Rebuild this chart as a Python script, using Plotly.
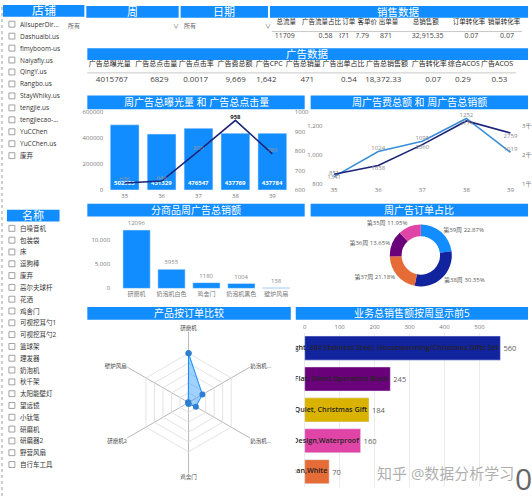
import plotly.graph_objects as go

# ---------------- data ----------------
stores = ['AllsuperDir...', 'Dashuaibi.us', 'fimyboom-us', 'Naiyafly.us', 'QingY.us', 'Rangbo.us',
          'StayWhiky.us', 'tengjie.us', 'tengjiecao-...', 'YuCChen', 'YuCChen.us', '废弃']
product_names = ['白噪音机', '包装袋', '床', '逗狗棒', '废弃', '高尔夫球杆', '花洒', '鸡舍门', '可视挖耳勺1',
                 '可视挖耳勺2', '篮球架', '理发器', '奶泡机', '秋千架', '太阳能壁灯', '望远镜', '小钛笔',
                 '研磨机', '研磨器2', '野营风扇', '自行车工具']
week_filter = '所有'
date_filter = '所有'

sales_headers = ['总流量', '广告流量占比', '订单', '客单价', '出单量', '总销售额', '订单转化率', '销量转化率']
sales_values = ['11709', '0.58', '871', '37.79', '871', '32,915.35', '0.07', '0.07']

ad_headers = ['广告总曝光量', '广告总点击量', '广告点击率', '广告费总额', '广告CPC', '广告总销量',
              '广告出单占比', '广告总销售额', '广告转化率', '综合ACOS', '广告ACOS']
ad_values = ['4015767', '6829', '0.0017', '9,669', '1,642', '471', '0.54', '18,372.33', '0.07', '0.29', '0.53']

weeks = ['35', '36', '37', '38', '39']
ad_impressions = [502983, 431329, 476547, 437769, 437784]
ad_clicks = [636, 646, 800, 958, 786]
ad_spend = [851, 1024, 1095, 1252, 1019]
ad_sales = [1341, 1638, 2360, 3174, 2759]

products = ['研磨机', '奶泡机白色', '鸡舍门', '奶泡机黑色', '壁炉风扇']
product_ad_sales = [12096, 3955, 1180, 1004, 138]

order_weeks = ['第39周', '第38周', '第37周', '第36周', '第35周']
order_share = [22.87, 30.35, 21.18, 13.65, 11.95]

radar_products = ['研磨机', '奶泡机白色', '奶泡机黑色', '鸡舍门', '研磨机2', '壁炉风扇']
radar_ticktext = ['研磨机', '奶泡机...', '奶泡机...', '鸡舍门', '研磨机2', '壁炉风扇']
radar_orders = [410, 133, 70, 12, 5, 3]

top5_items = ['Lightweight, 304 Stainless Steel, Housewarming/Christmas Gifts Set',
              'Flat, Silent Operation Black',
              'Super Quiet, Christmas Gift',
              'Design,Waterproof',
              'Easy Clean,White']
top5_sales = [560, 245, 184, 160, 70]

# ---------------- styling / layout helpers ----------------
W, H = 532, 500
def X(px): return px / W
def Y(py): return 1 - py / H

BLUE = '#118DFF'; NAVY = '#12239E'; ORANGE = '#E66C37'; PURPLE = '#6B007B'
PINK = '#E044A7'; GOLD = '#D9B300'; LINE_BLUE = '#3A8FD8'; DARK_LINE = '#1B2478'
FONT = 'Open Sans, Noto Sans CJK SC, sans-serif'
GRAY = '#777777'
TXT = '#252423'

fig = go.Figure()

# ---- chart 1: impressions (bars) and clicks (line)
fig.add_trace(go.Bar(
    x=weeks, y=ad_impressions, marker_color=BLUE, xaxis='x', yaxis='y',
    text=['<b>%d</b>' % v for v in ad_impressions], textposition='inside', insidetextanchor='start',
    textangle=0, textfont=dict(color='white', size=6, family=FONT), showlegend=False, hoverinfo='skip'))
click_colors = [TXT if v == max(ad_clicks) else '#9a9a9a' for v in ad_clicks]
click_text = ['<b>%d</b>' % v if v == max(ad_clicks) else str(v) for v in ad_clicks]
fig.add_trace(go.Scatter(
    x=weeks, y=ad_clicks, mode='lines+text', xaxis='x', yaxis='y2', line=dict(color=DARK_LINE, width=1.6),
    text=click_text, textposition='top center', textfont=dict(size=6, color=click_colors, family=FONT),
    cliponaxis=False, showlegend=False, hoverinfo='skip'))

# ---- chart 2: ad spend & ad sales lines
fig.add_trace(go.Scatter(
    x=weeks, y=ad_spend, mode='lines+text', xaxis='x3', yaxis='y3', line=dict(color=LINE_BLUE, width=1.6),
    text=[str(v) for v in ad_spend], textposition='top center', textfont=dict(size=6, color='#8a8a8a', family=FONT),
    cliponaxis=False, showlegend=False, hoverinfo='skip'))
fig.add_trace(go.Scatter(
    x=weeks, y=ad_sales, mode='lines+text', xaxis='x3', yaxis='y4', line=dict(color=DARK_LINE, width=1.6),
    text=[str(v) for v in ad_sales], textposition='bottom center', textfont=dict(size=6, color='#8a8a8a', family=FONT),
    cliponaxis=False, showlegend=False, hoverinfo='skip'))

# ---- chart 3: product ad sales
fig.add_trace(go.Bar(
    x=products, y=product_ad_sales, marker_color=BLUE, xaxis='x5', yaxis='y5',
    text=[str(v) for v in product_ad_sales], textposition='outside', textangle=0,
    textfont=dict(size=6, color='#8a8a8a', family=FONT), cliponaxis=False, showlegend=False, hoverinfo='skip'))

# ---- chart 4: donut
fig.add_trace(go.Pie(
    labels=order_weeks, values=order_share, hole=0.62, sort=False, direction='clockwise', rotation=0,
    marker=dict(colors=[BLUE, NAVY, ORANGE, PURPLE, PINK], line=dict(color='white', width=0)),
    textposition='outside', texttemplate='%{label} %{value:.2f}%', textfont=dict(size=6, color='#605E5C', family=FONT),
    domain=dict(x=[X(344), X(504)], y=[Y(287), Y(224)]), automargin=False, showlegend=False, hoverinfo='skip'))

# ---- chart 5: radar
fig.add_trace(go.Scatterpolar(
    r=radar_orders + radar_orders[:1], theta=radar_products + radar_products[:1], mode='lines+markers',
    fill='toself', fillcolor='rgba(17,141,255,0.40)', line=dict(color=BLUE, width=1),
    marker=dict(color='#2F7FD0', size=6), subplot='polar', showlegend=False, hoverinfo='skip'))

# ---- chart 6: top 5 horizontal bars
fig.add_trace(go.Bar(
    x=top5_sales, y=top5_items, orientation='h', xaxis='x6', yaxis='y6',
    marker_color=[NAVY, PURPLE, GOLD, PINK, ORANGE],
    text=[str(v) for v in top5_sales], textposition='outside', textfont=dict(size=7.5, color='#605E5C', family=FONT),
    cliponaxis=False, showlegend=False, hoverinfo='skip'))
fig.add_trace(go.Scatter(
    x=top5_sales, y=top5_items, mode='text', xaxis='x6', yaxis='y6',
    text=[t + '\u00a0' for t in top5_items], textposition='middle left',
    textfont=dict(size=7.2, color=TXT, family=FONT, weight=600), cliponaxis=True, showlegend=False, hoverinfo='skip'))

# ---- tables
sales_cols = [272, 305, 343, 360, 380, 403, 455, 490, 526]
fig.add_trace(go.Table(
    domain=dict(x=[X(sales_cols[0]), X(sales_cols[-1])], y=[Y(47), Y(7)]),
    columnwidth=[b - a for a, b in zip(sales_cols[:-1], sales_cols[1:])],
    header=dict(values=sales_headers, align='center', height=14,
                font=dict(size=6.5, color=TXT, family=FONT),
                fill_color='rgba(0,0,0,0)', line_color='rgba(0,0,0,0)'),
    cells=dict(values=[[v] for v in sales_values], align='right', height=14,
               font=dict(size=7, color='#444444', family=FONT),
               fill_color='rgba(0,0,0,0)', line_color='rgba(0,0,0,0)')))
ad_cols = [84, 137, 178, 218, 256, 287, 325, 368, 413, 453, 483, 520]
fig.add_trace(go.Table(
    domain=dict(x=[X(ad_cols[0]), X(ad_cols[-1])], y=[Y(90), Y(50)]),
    columnwidth=[b - a for a, b in zip(ad_cols[:-1], ad_cols[1:])],
    header=dict(values=ad_headers, align='center', height=14.5,
                font=dict(size=7, color=TXT, family=FONT),
                fill_color='rgba(0,0,0,0)', line_color='rgba(0,0,0,0)'),
    cells=dict(values=[[v] for v in ad_values], align='right', height=14,
               font=dict(size=8, color='#444444', family=FONT),
               fill_color='rgba(0,0,0,0)', line_color='rgba(0,0,0,0)')))

# ---------------- layout ----------------
tick = dict(size=6, color=GRAY, family=FONT)
ax_common = dict(showgrid=False, zeroline=False, showline=False, ticks='', tickfont=tick)

layout = dict(
    width=W, height=H, margin=dict(l=0, r=0, t=0, b=0),
    paper_bgcolor='white', plot_bgcolor='white', font=dict(family=FONT),
    bargap=0.22,
    xaxis=dict(domain=[X(107), X(293)], anchor='y', type='category', ticklabelstandoff=1, **ax_common),
    yaxis=dict(domain=[Y(189), Y(110)], anchor='x', range=[0, 600000], tickvals=[0, 200000, 400000, 600000],
               ticktext=['0', '200000', '400000', '600000'], ticklabelstandoff=2, **ax_common),
    yaxis2=dict(overlaying='y', anchor='x', side='right', range=[600, 1000], tickvals=[600, 700, 800, 900, 1000],
                ticklabelstandoff=3, **ax_common),
    xaxis3=dict(domain=[X(330), X(521)], anchor='y3', type='category', range=[-0.15, 4.15], ticklabelstandoff=1, **ax_common),
    yaxis3=dict(domain=[Y(183), Y(112)], anchor='x3', range=[800, 1281], tickvals=[800, 1000, 1200],
                ticktext=['800', '1,000', '1,200'], ticklabelstandoff=4, **ax_common),
    yaxis4=dict(overlaying='y3', anchor='x3', side='right', range=[1000, 3407], tickvals=[1000, 2000, 3000],
                ticktext=['1千', '2千', '3千'], ticklabelstandoff=4, **ax_common),
    xaxis5=dict(domain=[X(120), X(296)], anchor='y5', type='category', ticklabelstandoff=1, **ax_common),
    yaxis5=dict(domain=[Y(289), Y(222)], anchor='x5', range=[0, 13673], tickvals=[0, 5000, 10000],
                ticktext=['0', '5,000', '10,000'], ticklabelstandoff=8, **ax_common),
    xaxis6=dict(domain=[X(298), X(532)], anchor='y6', side='top', range=[-25.6, 639],
                tickvals=[0, 100, 200, 300, 400, 500], showgrid=True, gridcolor='#ececec', gridwidth=1,
                zeroline=False, showline=False, ticks='', tickfont=tick, ticklabelstandoff=1),
    yaxis6=dict(domain=[Y(491), Y(334)], anchor='x6', autorange='reversed', showticklabels=False,
                showgrid=False, zeroline=False, showline=False, ticks=''),
    polar=dict(domain=dict(x=[X(118), X(262)], y=[Y(477), Y(333)]), gridshape='linear', bgcolor='white',
               radialaxis=dict(range=[0, 590], tickvals=[82, 164, 246, 328, 410], showticklabels=False,
                               showline=False, ticks='', gridcolor='#e4e4e4', gridwidth=1),
               angularaxis=dict(direction='clockwise', rotation=90, showline=False, ticks='',
                                gridcolor='#b8b8b8', gridwidth=1, tickmode='array', tickvals=radar_products,
                                ticktext=radar_ticktext, tickfont=dict(size=5.5, color='#444', family=FONT))),
)

shapes = []
annotations = []

# title bars
title_bars = [
    ('店铺', 3, 85, 1, 13, 12), ('周', 87, 180, 2, 14, 11), ('日期', 182, 270, 2, 14, 11),
    ('销售数据', 272, 532, 2, 14, 10.5), ('广告数据', 88, 532, 45, 57, 10.5),
    ('周广告总曝光量 和 广告总点击量', 88, 307, 93, 107, 10), ('周广告费总额 和 周广告总销额', 313, 532, 93, 107, 10),
    ('分商品周广告总销额', 88, 307, 203, 216, 10), ('周广告订单占比', 313, 532, 203, 216, 10),
    ('产品按订单比较', 88, 293, 308, 321, 10), ('业务总销售额按周显示前5', 298, 532, 308, 321, 10),
    ('名称', 7, 60, 209, 221, 11),
]
for text, x0, x1, y0, y1, fs in title_bars:
    shapes.append(dict(type='rect', xref='paper', yref='paper', x0=X(x0), x1=X(x1), y0=Y(y1), y1=Y(y0),
                       fillcolor=BLUE, line=dict(width=0), layer='below'))
    annotations.append(dict(text=text, x=X((x0 + x1) / 2), y=Y((y0 + y1) / 2), xref='paper', yref='paper',
                            showarrow=False, font=dict(size=fs, color='white', family=FONT),
                            xanchor='center', yanchor='middle', borderpad=0))

# left dotted border
shapes.append(dict(type='line', xref='paper', yref='paper', x0=X(2), x1=X(2), y0=0, y1=1,
                   line=dict(color='#9a9a9a', width=1, dash='dot')))

# slicer lists
def slicer(items, y_first, step):
    for i, s in enumerate(items):
        yc = y_first + i * step
        shapes.append(dict(type='rect', xref='paper', yref='paper', x0=X(9), x1=X(15), y0=Y(yc + 3), y1=Y(yc - 3),
                           line=dict(color='#8a8a8a', width=0.8), fillcolor='white'))
        annotations.append(dict(text=s, x=X(18.5), y=Y(yc), xref='paper', yref='paper', showarrow=False,
                                xanchor='left', yanchor='middle', font=dict(size=6.5, color='#333', family=FONT)))
slicer(stores, 20.5, 12.15)
slicer(product_names, 228, 12.0)

# dropdown slicers
for text, xp in [(week_filter, 66), ('∨', 172), (date_filter, 183), ('∨', 265)]:
    annotations.append(dict(text=text, x=X(xp), y=Y(22.5), xref='paper', yref='paper', showarrow=False,
                            xanchor='left', yanchor='middle', font=dict(size=6, color='#666', family=FONT)))

# table header separators
shapes.append(dict(type='line', xref='paper', yref='paper', x0=X(274), x1=X(526), y0=Y(28), y1=Y(28),
                   line=dict(color='#c8c8c8', width=1)))
shapes.append(dict(type='line', xref='paper', yref='paper', x0=X(88), x1=X(520), y0=Y(70), y1=Y(70),
                   line=dict(color='#c8c8c8', width=1)))

# watermark
annotations.append(dict(text='知乎 @数据分析学习', x=X(449), y=Y(477), xref='paper', yref='paper', showarrow=False,
                        xanchor='center', yanchor='middle', font=dict(size=15, color='rgba(120,120,120,0.6)', family=FONT)))
annotations.append(dict(text='0', x=X(527), y=Y(482), xref='paper', yref='paper', showarrow=False,
                        xanchor='center', yanchor='middle', font=dict(size=30, color='#666', family=FONT)))

layout['shapes'] = shapes
layout['annotations'] = annotations
fig.update_layout(**layout)

fig.write_html('out.html')
